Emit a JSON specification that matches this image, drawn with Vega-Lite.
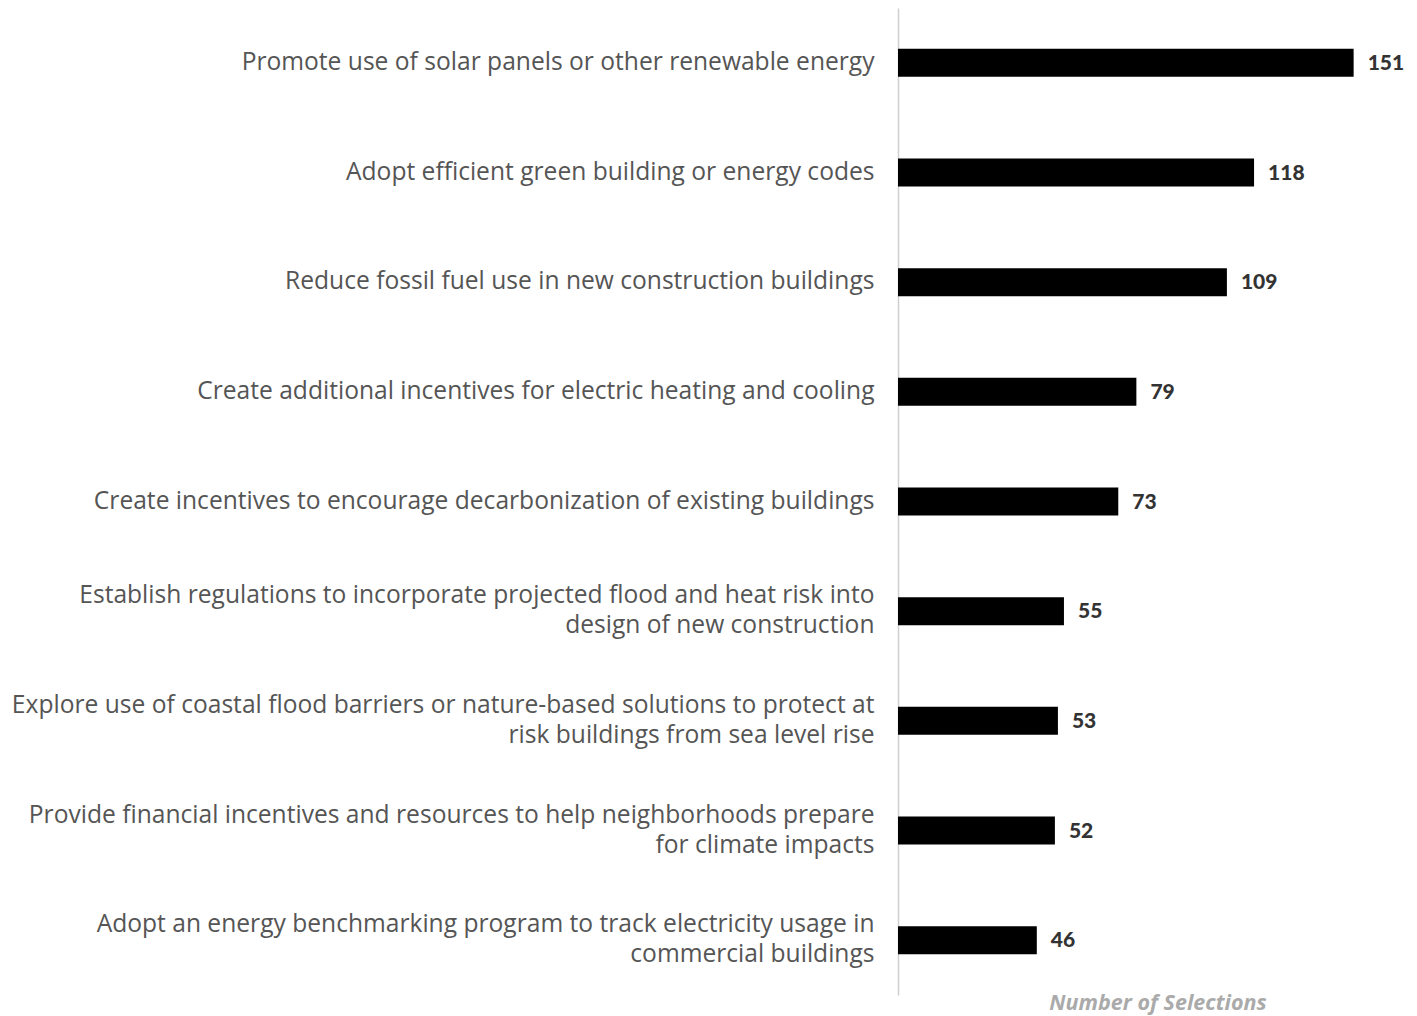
{
  "$schema": "https://vega.github.io/schema/vega-lite/v6.json",
  "autosize": {"type": "none"},
  "padding": {"left": 898, "top": 8, "right": 0, "bottom": 21},
  "width": 519,
  "height": 987,
  "background": "white",
  "data": {
    "values": [
      {"item": "Promote use of solar panels or other renewable energy", "value": 151},
      {"item": "Adopt efficient green building or energy codes", "value": 118},
      {"item": "Reduce fossil fuel use in new construction buildings", "value": 109},
      {"item": "Create additional incentives for electric heating and cooling", "value": 79},
      {"item": "Create incentives to encourage decarbonization of existing buildings", "value": 73},
      {"item": "Establish regulations to incorporate projected flood and heat risk into|design of new construction", "value": 55},
      {"item": "Explore use of coastal flood barriers or nature-based solutions to protect at|risk buildings from sea level rise", "value": 53},
      {"item": "Provide financial incentives and resources to help neighborhoods prepare|for climate impacts", "value": 52},
      {"item": "Adopt an energy benchmarking program to track electricity usage in|commercial buildings", "value": 46}
    ]
  },
  "encoding": {
    "y": {
      "field": "item",
      "type": "nominal",
      "sort": null,
      "scale": {"paddingInner": 0.745, "paddingOuter": 0.3725},
      "axis": {
        "title": null,
        "ticks": false,
        "domain": true,
        "domainColor": "#d0d0d0",
        "domainWidth": 1.5,
        "labelExpr": "split(datum.label, '|')",
        "labelFont": "Open Sans",
        "labelFontSize": 24.6,
        "labelColor": "#555555",
        "labelPadding": 24,
        "labelLimit": 0,
        "labelLineHeight": 30,
        "labelAlign": "right",
        "labelOffset": {"expr": "indexof(datum.value, '|') >= 0 ? -15 : 0"}
      }
    },
    "x": {
      "field": "value",
      "type": "quantitative",
      "scale": {"domain": [0, 172], "nice": false},
      "axis": {
        "title": "Number of Selections",
        "grid": false,
        "domain": false,
        "ticks": false,
        "labels": false,
        "titleFont": "Open Sans",
        "titleFontSize": 21.5,
        "titleFontStyle": "italic",
        "titleFontWeight": "bold",
        "titleColor": "#aaaaaa",
        "titlePadding": -3
      }
    }
  },
  "layer": [
    {"mark": {"type": "bar", "color": "#000000"}},
    {
      "mark": {"type": "text", "align": "left", "baseline": "middle", "dx": 14, "dy": 1, "font": "Lato", "fontSize": 21, "fontWeight": 900, "color": "#333333"},
      "encoding": {"text": {"field": "value", "type": "quantitative"}}
    }
  ],
  "config": {"view": {"stroke": null}}
}
